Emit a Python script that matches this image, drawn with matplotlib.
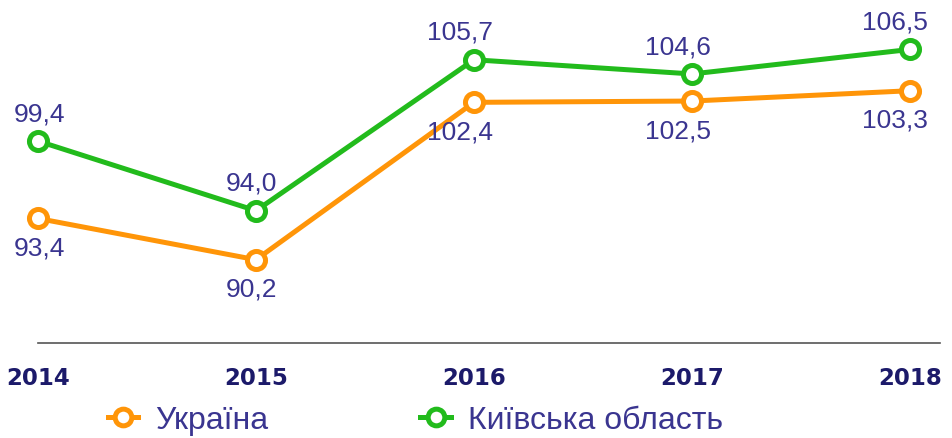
import matplotlib.pyplot as plt
from matplotlib.lines import Line2D

years = [2014, 2015, 2016, 2017, 2018]
ukraine = [93.4, 90.2, 102.4, 102.5, 103.3]
kyiv_oblast = [99.4, 94.0, 105.7, 104.6, 106.5]
labels_ua = ["93,4", "90,2", "102,4", "102,5", "103,3"]
labels_kyiv = ["99,4", "94,0", "105,7", "104,6", "106,5"]

orange = "#ff9508"
green = "#22bb1c"
text_col = "#3a3590"
year_col = "#1c1a6a"

# horizontal nudges for value labels (points)
dx = [1, -3, -10, -10, -11]

fig = plt.figure(figsize=(9.53, 4.39), dpi=100)
ax = fig.add_axes([0, 0, 1, 1])
ax.set_xlim(2013.826, 2018.197)
ax.set_ylim(76.38, 110.41)
ax.axis("off")

for vals, col in [(ukraine, orange), (kyiv_oblast, green)]:
    ax.plot(years, vals, color=col, lw=3.6, marker="o", ms=13,
            mfc="white", mec=col, mew=3.6, zorder=3)

for i, y in enumerate(years):
    ax.annotate(labels_kyiv[i], (y, kyiv_oblast[i]), xytext=(dx[i], 20),
                textcoords="offset points", ha="center", va="center",
                fontsize=19, color=text_col, family="Liberation Sans")
    ax.annotate(labels_ua[i], (y, ukraine[i]), xytext=(dx[i], -21),
                textcoords="offset points", ha="center", va="center",
                fontsize=19, color=text_col, family="Liberation Sans")
    ax.text(y, 81.1, str(y), ha="center", va="center", fontsize=16.5,
            fontweight="bold", color=year_col, family="DejaVu Sans")

ax.plot([2014, 2018.138], [83.74, 83.74], color="#555555", lw=1.2)

handles = [Line2D([], [], color=orange, lw=3.6, marker="o", ms=12, mfc="white",
                  mec=orange, mew=3.6),
           Line2D([], [], color=green, lw=3.6, marker="o", ms=12, mfc="white",
                  mec=green, mew=3.6)]
leg = fig.legend(handles, ["Україна", "Київська область"], ncol=2,
                 loc="center", bbox_to_anchor=(0.436, 0.04), frameon=False,
                 handlelength=0.95, handletextpad=0.55, columnspacing=4.75,
                 prop={"family": "Liberation Sans", "size": 23})
for t in leg.get_texts():
    t.set_color(text_col)

fig.savefig("out.png", dpi=100)
